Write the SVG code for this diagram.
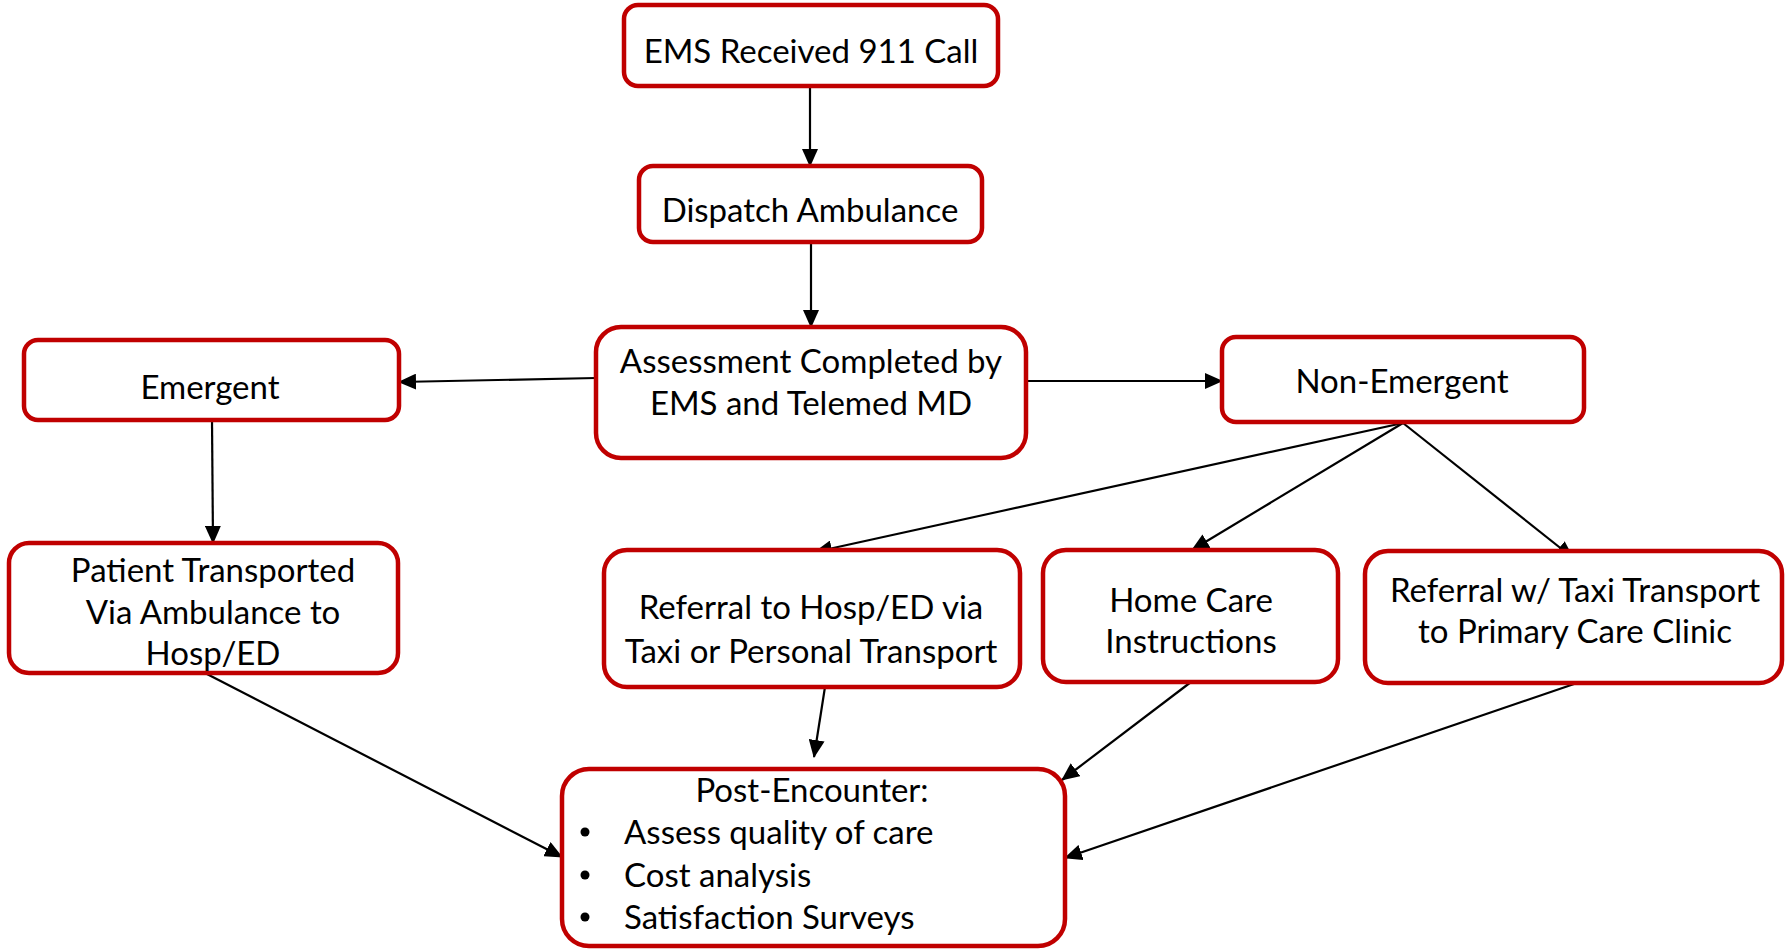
<svg xmlns="http://www.w3.org/2000/svg" width="1785" height="949" viewBox="0 0 1785 949">
<defs>
<marker id="arr" markerUnits="userSpaceOnUse" markerWidth="18" markerHeight="16" viewBox="0 0 18 16" refX="17" refY="8" orient="auto">
<path d="M0,0 L18,8 L0,16 Z" fill="#000"/>
</marker>
<style>
.box{fill:#fff;stroke:#C00000;stroke-width:4.5}
.t{font-family:Lato,"Open Sans","Liberation Sans",sans-serif;font-size:33px;fill:#000;text-anchor:middle}
.tl{text-anchor:start}
.c{stroke:#000;stroke-width:2.2;fill:none;marker-end:url(#arr)}
</style>
</defs>
<rect width="1785" height="949" fill="#fff"/>
<g id="connectors">
<line class="c" x1="810" y1="86" x2="810" y2="166"/>
<line class="c" x1="811" y1="242" x2="811" y2="327"/>
<line class="c" x1="596" y1="378" x2="399" y2="382"/>
<line class="c" x1="1026" y1="381" x2="1222" y2="381"/>
<line class="c" x1="212" y1="420" x2="213" y2="543"/>
<line class="c" x1="1403" y1="423" x2="815" y2="552"/>
<line class="c" x1="1403" y1="423" x2="1192" y2="550"/>
<line class="c" x1="1403" y1="423" x2="1573" y2="558"/>
<line class="c" x1="205" y1="673" x2="562" y2="857"/>
<line class="c" x1="825" y1="687" x2="814" y2="757"/>
<line class="c" x1="1191" y1="682" x2="1062" y2="780"/>
<line class="c" x1="1577" y1="683" x2="1065" y2="858"/>
</g>
<g id="ems">
<rect class="box" x="624" y="5" width="374" height="81" rx="14"/>
<text class="t" x="811" y="63">EMS Received 911 Call</text>
</g>
<g id="dispatch">
<rect class="box" x="639" y="166" width="343" height="76" rx="14"/>
<text class="t" x="810" y="222">Dispatch Ambulance</text>
</g>
<g id="assessment">
<rect class="box" x="596" y="327" width="430" height="131" rx="25"/>
<text class="t" x="811" y="373">Assessment Completed by</text>
<text class="t" x="811" y="415">EMS and Telemed MD</text>
</g>
<g id="emergent">
<rect class="box" x="24" y="340" width="375" height="80" rx="14"/>
<text class="t" x="210" y="399">Emergent</text>
</g>
<g id="non-emergent">
<rect class="box" x="1222" y="337" width="362" height="85" rx="14"/>
<text class="t" x="1402" y="393">Non-Emergent</text>
</g>
<g id="patient-transported">
<rect class="box" x="9" y="543" width="389" height="130" rx="20"/>
<text class="t" x="213" y="582">Patient Transported</text>
<text class="t" x="213" y="624">Via Ambulance to</text>
<text class="t" x="213" y="665">Hosp/ED</text>
</g>
<g id="referral-hosp">
<rect class="box" x="604" y="550" width="416" height="137" rx="23"/>
<text class="t" x="811" y="619">Referral to Hosp/ED via</text>
<text class="t" x="811" y="663">Taxi or Personal Transport</text>
</g>
<g id="home-care">
<rect class="box" x="1043" y="550" width="295" height="132" rx="23"/>
<text class="t" x="1191" y="612">Home Care</text>
<text class="t" x="1191" y="653">Instructions</text>
</g>
<g id="referral-taxi">
<rect class="box" x="1365" y="551" width="417" height="132" rx="23"/>
<text class="t" x="1575" y="602">Referral w/ Taxi Transport</text>
<text class="t" x="1575" y="643">to Primary Care Clinic</text>
</g>
<g id="post-encounter">
<rect class="box" x="562" y="769" width="503" height="177" rx="27"/>
<text class="t" x="812" y="802">Post-Encounter:</text>
<circle cx="585" cy="832" r="4.5"/>
<circle cx="585" cy="875" r="4.5"/>
<circle cx="585" cy="917" r="4.5"/>
<text class="t tl" x="624" y="844">Assess quality of care</text>
<text class="t tl" x="624" y="887">Cost analysis</text>
<text class="t tl" x="624" y="929">Satisfaction Surveys</text>
</g>
</svg>
